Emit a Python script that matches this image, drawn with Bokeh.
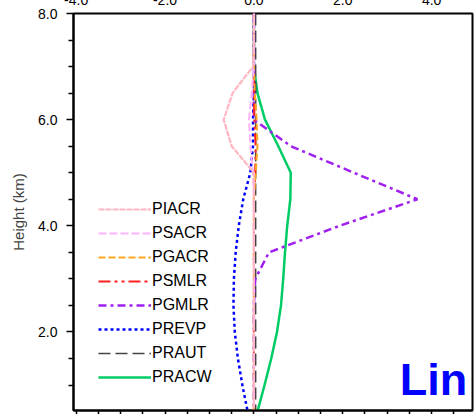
from bokeh.plotting import figure
from bokeh.models import (ColumnDataSource, LinearAxis, FixedTicker, NumeralTickFormatter,
                          Legend, LegendItem, Label, Range1d)
from bokeh.embed import file_html
from bokeh.resources import INLINE

# Model levels (km) and heating/conversion-rate profiles for each process
HEIGHT_KM = [8.0, 7.5, 7.0, 6.5, 6.0, 5.5, 5.0, 4.5, 4.0, 3.5, 3.0, 2.5, 2.0, 1.5, 1.0, 0.5]
PIACR = [0.0, 0.0, -0.02, -0.48, -0.68, -0.50, 0.0, 0.0, 0.0, 0.0, 0.0, 0.0, 0.0, 0.0, 0.0, 0.0]
PSACR = [0.0, 0.0, 0.0, -0.05, -0.11, -0.08, -0.02, 0.0, 0.0, 0.0, 0.0, 0.0, 0.0, 0.0, 0.0, 0.0]
PGACR = [0.0, 0.0, 0.0, 0.02, 0.06, 0.08, 0.04, 0.0, 0.0, 0.0, 0.0, 0.0, 0.0, 0.0, 0.0, 0.0]
PSMLR = [0.0, 0.0, 0.0, 0.0, 0.01, 0.04, 0.03, 0.0, 0.0, 0.0, 0.0, 0.0, 0.0, 0.0, 0.0, 0.0]
PGMLR = [0.0, 0.0, 0.0, 0.0, 0.0, 0.83, 2.25, 3.68, 1.93, 0.34, 0.03, 0.0, 0.0, 0.0, 0.0, 0.0]
PREVP = [0.0, 0.0, 0.0, 0.0, -0.02, -0.02, -0.08, -0.24, -0.34, -0.41, -0.45, -0.46, -0.43, -0.36, -0.26, -0.14]
PRAUT = [0.04, 0.04, 0.04, 0.04, 0.04, 0.04, 0.04, 0.04, 0.04, 0.04, 0.04, 0.04, 0.04, 0.04, 0.04, 0.04]
PRACW = [0.0, 0.0, 0.0, 0.08, 0.25, 0.55, 0.83, 0.82, 0.75, 0.70, 0.66, 0.61, 0.52, 0.39, 0.24, 0.08]

SERIES = ["PIACR", "PSACR", "PGACR", "PSMLR", "PGMLR", "PREVP", "PRAUT", "PRACW"]
VALUES = [PIACR, PSACR, PGACR, PSMLR, PGMLR, PREVP, PRAUT, PRACW]

X_TICKS = [-4.0, -2.0, 0.0, 2.0, 4.0]
X_MINOR = [-4.0, -3.5, -3.0, -2.5, -2.0, -1.5, -1.0, -0.5, 0.0, 0.5, 1.0, 1.5, 2.0, 2.5, 3.0, 3.5, 4.0, 4.5]
Y_TICKS = [2.0, 4.0, 6.0, 8.0]
Y_MINOR = [1.0, 1.5, 2.5, 3.0, 3.5, 4.5, 5.0, 5.5, 6.5, 7.0, 7.5]

FONT = "Liberation Sans"

# line styles per process: colour, width, dash
STYLES = {
    "PIACR": ("#ffb6c1", 2.2, "6 1"),
    "PSACR": ("#ffb3ff", 2.0, "8 3"),
    "PGACR": ("#ffa520", 2.0, "7 3"),
    "PSMLR": ("#ff2020", 2.0, "12 4 3 4 3 4"),
    "PGMLR": ("#a020f0", 2.5, "8 4 3 4"),
    "PREVP": ("#0000ff", 2.5, "3 3"),
    "PRAUT": ("#444444", 1.5, "12 5"),
    "PRACW": ("#00cc66", 2.5, "solid"),
}

p = figure(width=475, height=431,
           x_range=Range1d(-4.06, 4.92), y_range=Range1d(0.52, 8.0),
           x_axis_location="above",
           output_backend="svg", toolbar_location=None,
           min_border_left=73, min_border_right=3,
           min_border_top=30, min_border_bottom=3)
p.margin = (-17, 0, 0, 0)
p.background_fill_color = "white"
p.border_fill_color = "white"
p.outline_line_color = "black"
p.outline_line_width = 2
p.xgrid.visible = False
p.ygrid.visible = False

# top axis: labels only
top = p.xaxis[0]
top.ticker = FixedTicker(ticks=X_TICKS, minor_ticks=[])
top.formatter = NumeralTickFormatter(format="0.0")
top.major_tick_out = 0
top.major_tick_in = 0
top.minor_tick_out = 0
top.minor_tick_in = 0
top.axis_line_color = None
top.major_label_standoff = 9
top.major_label_text_font = FONT
top.major_label_text_font_size = "14px"
top.major_label_text_color = "black"

# bottom axis: tick marks every 0.5, labels not painted
bottom = LinearAxis(ticker=FixedTicker(ticks=X_MINOR, minor_ticks=[]))
bottom.major_tick_out = 4
bottom.major_tick_in = 0
bottom.minor_tick_out = 0
bottom.major_tick_line_width = 1.5
bottom.axis_line_width = 2
bottom.major_label_text_font_size = "1px"
bottom.major_label_text_color = None
bottom.major_label_standoff = 0
p.add_layout(bottom, "below")

# height axis
ya = p.yaxis[0]
ya.ticker = FixedTicker(ticks=Y_TICKS, minor_ticks=Y_MINOR)
ya.formatter = NumeralTickFormatter(format="0.0")
ya.major_tick_out = 7
ya.major_tick_in = 0
ya.minor_tick_out = 5
ya.minor_tick_in = 0
ya.major_tick_line_width = 1.5
ya.minor_tick_line_width = 1.5
ya.axis_line_width = 2
ya.major_label_standoff = 9
ya.major_label_text_font = FONT
ya.major_label_text_font_size = "14px"
ya.major_label_text_color = "black"
ya.axis_label = "Height (km)"
ya.axis_label_text_font = FONT
ya.axis_label_text_font_size = "15px"
ya.axis_label_text_font_style = "normal"
ya.axis_label_standoff = 8

# draw in reverse so the pink PIACR profile sits on top along the zero line
renderers = {}
for name, vals in reversed(list(zip(SERIES, VALUES))):
    color, width, dash = STYLES[name]
    src = ColumnDataSource(dict(rate=vals, height=HEIGHT_KM))
    renderers[name] = p.line("rate", "height", source=src, line_color=color,
                             line_width=width, line_dash=dash)

items = [LegendItem(label=name, renderers=[renderers[name]]) for name in SERIES]
legend = Legend(items=items, location=(25, 23),
                glyph_width=53, glyph_height=20, label_height=20,
                label_standoff=1, spacing=4, padding=0, margin=0,
                background_fill_alpha=0, border_line_color=None,
                label_text_font=FONT, label_text_font_size="16px",
                label_text_color="black")
p.add_layout(legend)

p.add_layout(Label(x=4.80, y=1.1, text="Lin", text_align="right",
                   text_baseline="alphabetic", text_font=FONT,
                   text_font_size="45px", text_font_style="bold",
                   text_color="#0000ff"))

open("out.html", "w").write(file_html(p, INLINE))
